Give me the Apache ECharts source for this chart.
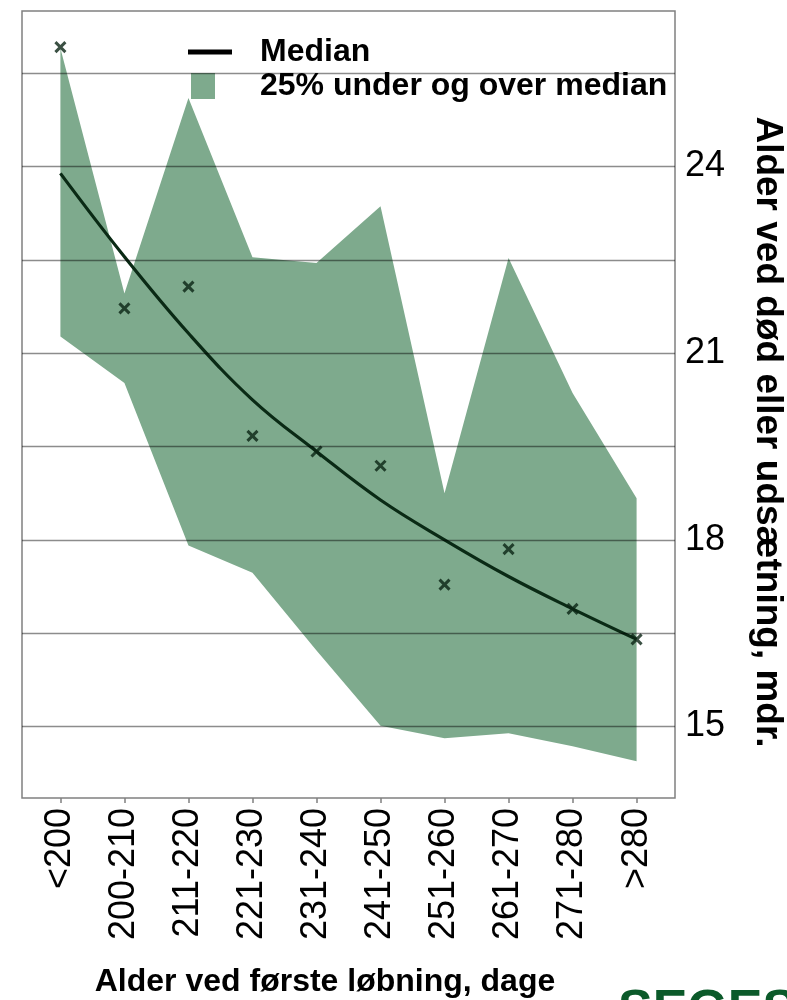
<!DOCTYPE html>
<html>
<head>
<meta charset="utf-8">
<script src="https://cdn.jsdelivr.net/npm/echarts@6/dist/echarts.min.js"></script>
<style>
  html, body { margin: 0; padding: 0; background: #fff; }
  #chart { width: 787px; height: 1000px; }
</style>
</head>
<body>
<div id="chart"></div>
<script>
// alder ved første løbning (kategorier)
const categories = ['<200', '200-210', '211-220', '221-230', '231-240', '241-250', '251-260', '261-270', '271-280', '>280'];
// median (glattet kurve) og observerede punkter
const median = [23.89, 22.55, 21.32, 20.25, 19.42, 18.64, 18.0, 17.41, 16.89, 16.40];
const observed = [25.92, 21.72, 22.07, 19.67, 19.42, 19.19, 17.28, 17.85, 16.89, 16.40];
// 25% under og over median
const upper = [25.9, 21.96, 25.1, 22.54, 22.45, 23.36, 18.75, 22.53, 20.36, 18.67];
const lower = [21.27, 20.52, 17.91, 17.47, 16.22, 15.01, 14.81, 14.89, 14.68, 14.44];
// y-akse
const yLabels = [15, 18, 21, 24];
const gridValues = [15, 16.5, 18, 19.5, 21, 22.5, 24, 25.5];

const idx = categories.map((c, i) => i);
const font = 'Liberation Sans, Arial, sans-serif';
const bandColor = '#7eaa8d';
const lineColor = '#0a2a15';

let chart = echarts.init(document.getElementById('chart'));

let option = {
    animation: false,
    backgroundColor: '#fff',
    grid: {
        left: 22,
        right: 112,
        top: 11,
        bottom: 202,
        show: true,
        borderColor: '#808080',
        borderWidth: 1.5
    },
    legend: [{
        left: 183,
        top: 31,
        itemWidth: 44,
        itemHeight: 5,
        data: [{ name: 'Median', icon: 'rect' }],
        textStyle: { fontFamily: font, fontWeight: 'bold', fontSize: 32, color: '#000', padding: [0, 0, 0, 23] }
    }, {
        left: 186,
        top: 65,
        itemWidth: 24,
        itemHeight: 26,
        data: [{ name: '25% under og over median', icon: 'rect' }],
        textStyle: { fontFamily: font, fontWeight: 'bold', fontSize: 32, color: '#000', padding: [0, 0, 0, 40] }
    }],
    xAxis: {
        type: 'value',
        min: -0.6,
        max: 9.6,
        axisLine: { show: false },
        splitLine: { show: false },
        axisTick: {
            show: true,
            customValues: idx,
            length: 5,
            lineStyle: { color: '#808080', width: 1.5 }
        },
        axisLabel: {
            customValues: idx,
            rotate: 90,
            margin: 10,
            fontFamily: font,
            fontSize: 36,
            color: '#000',
            formatter: v => categories[Math.round(v)]
        }
    },
    yAxis: {
        type: 'value',
        position: 'right',
        min: 13.85,
        max: 26.5,
        axisLine: { show: false },
        axisTick: { show: false },
        splitLine: { show: false },
        axisLabel: {
            customValues: yLabels,
            margin: 10,
            fontFamily: font,
            fontSize: 36,
            color: '#000'
        }
    },
    series: [{
        name: '25% under og over median',
        type: 'custom',
        z: 1,
        itemStyle: { color: bandColor },
        data: idx.map(i => [i, upper[i], lower[i]]),
        renderItem: function (params, api) {
            if (params.dataIndex !== 0) return;
            let pts = [];
            idx.forEach(i => pts.push(api.coord([i, upper[i]])));
            idx.slice().reverse().forEach(i => pts.push(api.coord([i, lower[i]])));
            return {
                type: 'polygon',
                shape: { points: pts },
                style: { fill: bandColor }
            };
        }
    }, {
        name: 'gitter',
        type: 'line',
        z: 2,
        data: [],
        markLine: {
            silent: true,
            symbol: 'none',
            label: { show: false },
            lineStyle: { color: 'rgba(0,0,0,0.45)', width: 1.3, type: 'solid' },
            data: gridValues.map(v => ({ yAxis: v }))
        }
    }, {
        name: 'Median',
        type: 'line',
        z: 3,
        smooth: 0.4,
        showSymbol: false,
        itemStyle: { color: '#000' },
        lineStyle: { color: lineColor, width: 3.2 },
        data: idx.map(i => [i, median[i]])
    }, {
        name: 'Observeret',
        type: 'scatter',
        z: 4,
        symbol: 'path://M0,0L10,10M10,0L0,10',
        symbolSize: 10,
        itemStyle: { color: 'transparent', borderColor: '#0a2414', borderWidth: 3 },
        data: idx.map(i => [i, observed[i]])
    }],
    graphic: [{
        type: 'text',
        x: 767,
        y: 432,
        rotation: -Math.PI / 2,
        style: {
            text: 'Alder ved død eller udsætning, mdr.',
            font: 'bold 37px ' + font,
            fill: '#000',
            align: 'center',
            verticalAlign: 'middle'
        }
    }, {
        type: 'text',
        x: 325,
        y: 982,
        style: {
            text: 'Alder ved første løbning, dage',
            font: 'bold 32px ' + font,
            fill: '#000',
            align: 'center',
            verticalAlign: 'middle'
        }
    }, {
        type: 'text',
        x: 618,
        y: 986,
        style: {
            text: 'SEGES',
            font: 'bold 52px ' + font,
            fill: '#0b5a2a',
            align: 'left',
            verticalAlign: 'top'
        }
    }]
};

chart.setOption(option);
</script>
</body>
</html>
